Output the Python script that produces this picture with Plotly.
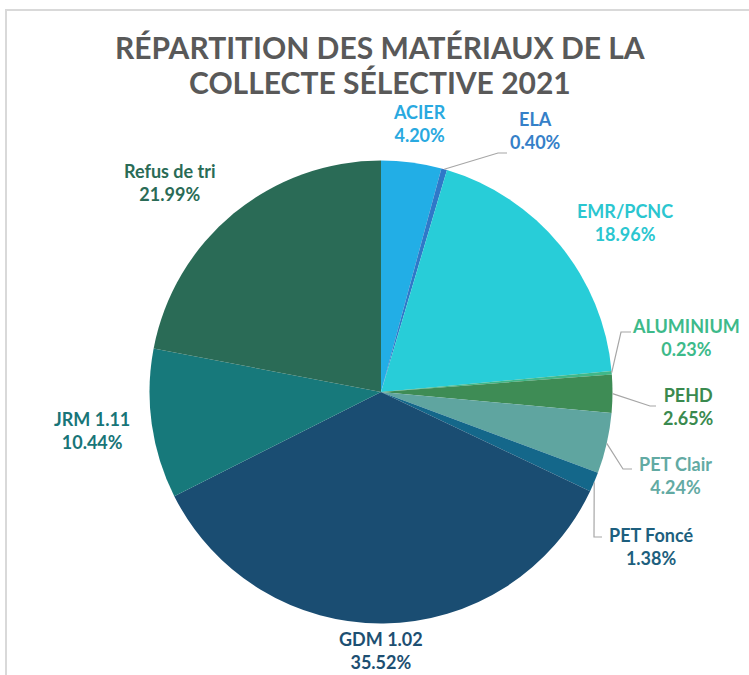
import math
import plotly.graph_objects as go

# ---- data ----
categories = ["ACIER", "ELA", "EMR/PCNC", "ALUMINIUM", "PEHD", "PET Clair",
              "PET Foncé", "GDM 1.02", "JRM 1.11", "Refus de tri"]
shares = [4.20, 0.40, 18.96, 0.23, 2.65, 4.24, 1.38, 35.52, 10.44, 21.99]
slice_colors = ["#22aee6", "#2f78c8", "#28cdd8", "#40b88a", "#3e8c55",
                "#5fa5a0", "#14678a", "#1a4d72", "#17797b", "#2a6b56"]
label_colors = ["#29a9e0", "#3580c8", "#2bc6d0", "#3dba8a", "#3a8a4f",
                "#62aaa3", "#1d5f7e", "#1d4f72", "#187578", "#2a6b56"]
title_lines = ["RÉPARTITION DES MATÉRIAUX DE LA", "COLLECTE SÉLECTIVE 2021"]

# ---- layout (pixels) ----
W, H = 749, 675
CX, CY, R = 381, 392, 231.5

def px(x, y):
    return x / W, 1 - y / H

# label block centres (pixels)
label_pos = {
    "ACIER": (420, 123), "ELA": (535, 130), "EMR/PCNC": (625, 222),
    "ALUMINIUM": (686, 337), "PEHD": (688, 406), "PET Clair": (675, 476),
    "PET Foncé": (651, 546), "GDM 1.02": (381, 650), "JRM 1.11": (92, 430),
    "Refus de tri": (170, 182),
}
title_pos = [(380, 47), (380, 82)]
# leader line bend / end points (pixels)
leaders = {
    "ELA": [(498, 153), (507, 153)],
    "ALUMINIUM": [(621, 332), (631, 332)],
    "PEHD": [(650, 406), (656, 406)],
    "PET Clair": [(623, 469), (632, 469)],
    "PET Foncé": [(594, 537), (602, 537)],
}

x0, y1 = px(CX - R, CY - R)
x1, y0 = px(CX + R, CY + R)

fig = go.Figure(go.Pie(
    labels=categories, values=shares, sort=False, direction="clockwise",
    rotation=0, marker=dict(colors=slice_colors, line=dict(width=0)),
    textinfo="none", hoverinfo="skip", showlegend=False,
    domain=dict(x=[x0, x1], y=[y0, y1]),
))

annotations = []
shapes = []
total = sum(shares)
cum = 0.0
for cat, v, col in zip(categories, shares, label_colors):
    mid = (cum + v / 2) / total * 2 * math.pi
    cum += v
    lx, ly = label_pos[cat]
    ax_, ay_ = px(lx, ly)
    annotations.append(dict(
        x=ax_, y=ay_, xref="paper", yref="paper", showarrow=False,
        xanchor="center", yanchor="middle", align="center",
        text=f"<b>{cat}<br>{v:.2f}%</b>",
        font=dict(family="Lato", size=18, color=col),
    ))
    if cat in leaders:
        ex = CX + R * math.sin(mid)
        ey = CY - R * math.cos(mid)
        pts = [(ex, ey)] + leaders[cat]
        path = "M " + " L ".join(f"{px(a, b)[0]},{px(a, b)[1]}" for a, b in pts)
        shapes.append(dict(type="path", path=path, xref="paper", yref="paper",
                           line=dict(color="#a6a6a6", width=1.2)))

for line, (tx, ty) in zip(title_lines, title_pos):
    a, b = px(tx, ty)
    annotations.append(dict(
        x=a, y=b, xref="paper", yref="paper", showarrow=False,
        xanchor="center", yanchor="middle", text=f"<b>{line}</b>",
        font=dict(family="Lato", size=30, color="#595959"),
    ))

# chart frame
shapes.append(dict(type="path", xref="paper", yref="paper",
                   path=f"M {px(6, 676)[0]},{px(6, 676)[1]} L {px(6, 10)[0]},{px(6, 10)[1]} L {px(750, 10)[0]},{px(750, 10)[1]}",
                   line=dict(color="#d9d9d9", width=2)))

fig.update_layout(
    width=W, height=H, margin=dict(l=0, r=0, t=0, b=0),
    paper_bgcolor="white", plot_bgcolor="white",
    annotations=annotations, shapes=shapes,
)

fig.write_html("out.html", config={"displayModeBar": False},
               post_script="document.body.style.margin='0';")
